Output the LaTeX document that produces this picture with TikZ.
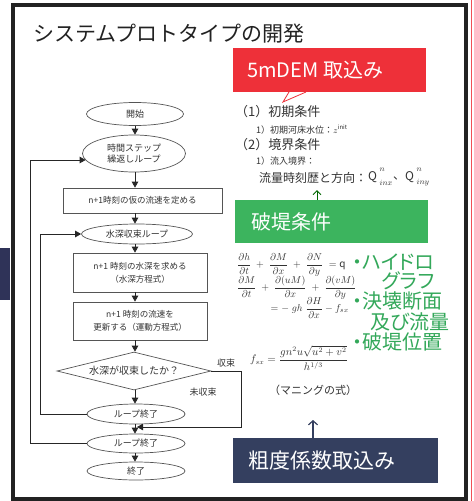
\documentclass[tikz,border=0pt]{standalone}
\usepackage{amsmath}
\usepackage{fontspec}
\setmainfont{Noto Sans CJK JP}
\newfontfamily\paltjp[RawFeature=+palt]{Noto Sans CJK JP}
\usetikzlibrary{shapes.geometric,arrows.meta}
\definecolor{redbox}{HTML}{EE3039}
\definecolor{greenbox}{HTML}{3CB45E}
\definecolor{greentext}{HTML}{33A85A}
\definecolor{navybox}{HTML}{343F5F}
\definecolor{navyside}{HTML}{2F3358}
\definecolor{framec}{HTML}{222222}
\definecolor{linegray}{HTML}{555555}
\definecolor{textgray}{HTML}{333333}
\begin{document}
\begin{tikzpicture}[x=1pt,y=-1pt,
  fcell/.style={draw=linegray, line width=0.7pt, fill=white, text=textgray,
    font=\fontsize{9}{11}\selectfont, align=center, inner sep=0pt},
  ell/.style={fcell, ellipse},
  rbox/.style={fcell, rectangle, font=\fontsize{8.5}{13}\selectfont},
  arr/.style={-{Triangle[length=6pt,width=6.5pt]}, line width=0.8pt, draw=black!85},
  lbl/.style={inner sep=0pt, text=textgray},
  cond/.style={inner sep=0pt, anchor=west, text=textgray},
  qscript/.style={inner sep=0pt, anchor=west, text=textgray, font=\fontsize{8}{8}\selectfont},
  bannertext/.style={inner sep=0pt, anchor=west, text=white},
  gtext/.style={inner sep=0pt, anchor=west, text=greentext, font=\paltjp\fontsize{20}{22}\selectfont},
  eqn/.style={inner sep=0pt, text=textgray, font=\fontsize{10}{12}\selectfont}
]
\useasboundingbox (0,0) rectangle (474,501);
\fill[white] (0,0) rectangle (474,501);
% side marks
\fill[navyside] (0,248) rectangle (10,300);
\draw[redbox!85, line width=1pt] (471,0) -- (471,501);
% outer frame
\draw[framec, line width=3.5pt] (13,5) rectangle (466,499);
% title
\node[cond, text=framec, font=\fontsize{21}{24}\selectfont] (title) at (33,34) {システムプロトタイプの開発};

% ---------- right column ----------
\fill[redbox] (233,48) rectangle (426,92);
\filldraw[fill=white, draw=redbox, line width=0.8pt] (289,92) -- (283,102) -- (306,92);
\node[bannertext, font=\fontsize{20}{22}\selectfont] (dem) at (247,70) {5mDEM 取込み};

\node[cond, font=\fontsize{13}{15}\selectfont] (c1) at (235,112) {（1）初期条件};
\node[cond, font=\fontsize{9}{11}\selectfont] (c11) at (256,130) {1）初期河床水位：$z^{\mathit{init}}$};
\node[cond, font=\fontsize{13}{15}\selectfont] (c2) at (235,145) {（2）境界条件};
\node[cond, font=\fontsize{9}{11}\selectfont] (c21) at (256,161) {1）流入境界：};
\node[cond, font=\fontsize{12}{14}\selectfont] (c22) at (259,178) {流量時刻歴と方向：};
% Q^n_inx , Q^n_iny
\node[cond, font=\fontsize{12}{14}\selectfont] (q1) at (368,177) {$\mathrm{Q}$};
\node[qscript] (q1n) at (379.5,170) {$n$};
\node[qscript] (q1s) at (379.5,183) {$inx$};
\node[cond, font=\fontsize{12}{14}\selectfont] (qsep) at (393,178) {、};
\node[cond, font=\fontsize{12}{14}\selectfont] (q2) at (405,177) {$\mathrm{Q}$};
\node[qscript] (q2n) at (416.5,170) {$n$};
\node[qscript] (q2s) at (416.5,183) {$iny$};

\fill[greenbox] (235,200) rectangle (428,243);
\node[bannertext, font=\fontsize{20}{22}\selectfont] (brk) at (251,222) {破堤条件};
\coordinate (gtop) at (317,200);
\coordinate (gtip) at (317,190);
\draw[-{Straight Barb[length=4pt,width=8pt]}, line width=1pt, draw=green!40!black] (gtop) -- (gtip);

\node[eqn, anchor=west] (eq1) at (237,265)
  {$\dfrac{\partial h}{\partial t}\;+\;\dfrac{\partial M}{\partial x}\;+\;\dfrac{\partial N}{\partial y}\;=\mathrm{q}$};
\node[eqn, anchor=west] (eq2) at (237,288)
  {$\dfrac{\partial M}{\partial t}\;+\;\dfrac{\partial(uM)}{\partial x}\;+\;\dfrac{\partial(vM)}{\partial y}$};
\node[eqn, anchor=east] (eq3) at (349,308)
  {$=-\;gh\;\dfrac{\partial H}{\partial x}-f_{sx}$};

\node[gtext] (g1) at (352,262) {・ハイドロ};
\node[gtext] (g2) at (382,281) {グラフ};
\node[gtext] (g3) at (352,301) {・決壊断面};
\node[gtext] (g4) at (370,322) {及び流量};
\node[gtext] (g5) at (352,342) {・破堤位置};

\node[eqn, anchor=west, font=\fontsize{10.5}{12}\selectfont] (man) at (250,358)
  {$f_{sx}=\dfrac{gn^2u\sqrt{u^2+v^2}}{h^{1/3}}$};
\node[cond, font=\fontsize{11}{13}\selectfont] (manj) at (269,390) {（マニングの式）};

\fill[navybox] (233,438) rectangle (438,483);
\node[bannertext, font=\fontsize{21}{24}\selectfont] (rough) at (248,461) {粗度係数取込み};
\coordinate (ntop) at (313,438);
\coordinate (ntip) at (313,420);
\draw[-{Straight Barb[length=4pt,width=9pt]}, line width=1.2pt, draw=navybox] (ntop) -- (ntip);

% ---------- flowchart ----------
\node[ell, minimum width=97pt, minimum height=23pt] (start) at (135,114) {開始};
\node[ell, minimum width=103pt, minimum height=37pt] (tstep) at (134,153.5) {時間ステップ\\繰返しループ};
\node[rbox, minimum width=159pt, minimum height=25pt] (r1) at (142.5,200.5) {n+1時刻の仮の流速を定める};
\node[ell, minimum width=111pt, minimum height=20pt] (loop2) at (137,234) {水深収束ループ};
\node[rbox, minimum width=134pt, minimum height=39pt] (r2) at (140,272.5) {n+1 時刻の水深を求める\\（水深方程式）};
\node[rbox, minimum width=134pt, minimum height=38pt] (r3) at (140,321) {n+1 時刻の流速を\\更新する（運動方程式）};
\node[fcell, diamond, aspect=4, minimum width=154pt, minimum height=38pt, font=\fontsize{10}{12}\selectfont] (dia) at (134,371) {水深が収束したか？};
\node[ell, minimum width=98pt, minimum height=20pt] (end1) at (136,414) {ループ終了};
\node[ell, minimum width=98pt, minimum height=19pt] (end2) at (136,443.5) {ループ終了};
\node[ell, minimum width=98pt, minimum height=18pt] (fin) at (136,471) {終了};

\node[lbl, font=\fontsize{9}{11}\selectfont] (conv) at (226,363) {収束};
\node[lbl, font=\fontsize{9}{11}\selectfont] (nconv) at (203,392) {未収束};

\coordinate (cx) at (135,0);
\draw[arr] (start.south -| cx) -- (tstep.north -| cx);
\draw[arr] (tstep.south -| cx) -- (r1.north -| cx);
\draw[arr] (r1.south -| cx) -- (loop2.north -| cx);
\draw[arr] (loop2.south -| cx) -- (r2.north -| cx);
\draw[arr] (r2.south -| cx) -- (r3.north -| cx);
\draw[arr] (r3.south -| cx) -- (dia.north -| cx);
\draw[arr] (dia.south -| cx) -- (end1.north -| cx);
\draw[arr] (end1.south -| cx) -- (end2.north -| cx);
\draw[arr] (end2.south -| cx) -- (fin.north -| cx);

% inner loop
\coordinate (in1) at (40,234);
\draw[arr] (end1.west) -| (in1) -- (loop2.west);
% outer loop
\coordinate (in2) at (30,160);
\draw[arr] (end2.west) -| (in2) -- (in2 -| tstep.188);
% converged branch
\coordinate (join) at (137,427);
\coordinate (cr) at (241,371);
\draw[arr] (dia.east) -- (cr) |- (join);
\end{tikzpicture}
\end{document}
